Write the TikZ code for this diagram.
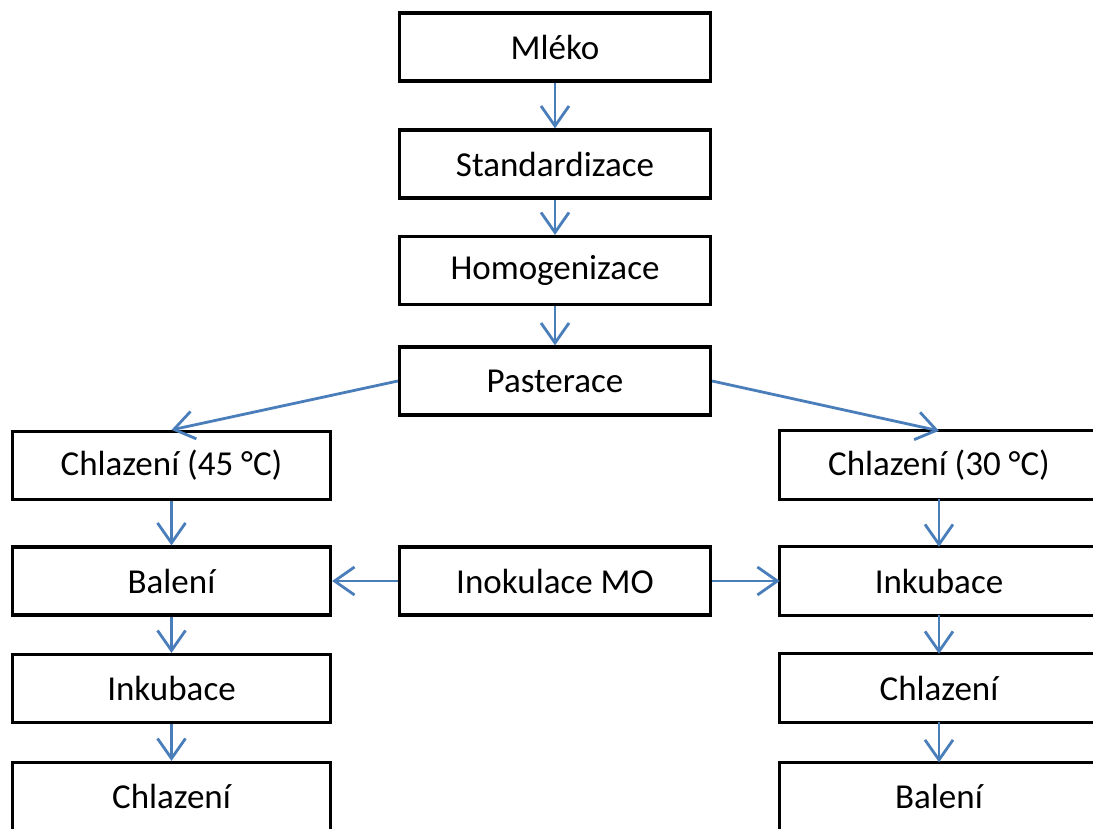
\documentclass[tikz,border=0pt]{standalone}
\usepackage{fontspec}
\setmainfont{Carlito}
\usetikzlibrary{arrows.meta}
\definecolor{flowblue}{RGB}{74,126,187}

\begin{document}
\begin{tikzpicture}[x=1pt, y=-1pt]

% GLOBAL SETTINGS
\tikzset{
  boxline/.style={line width=3.2pt, line join=miter},
  stepbox/.style={minimum height=68pt, inner sep=0pt,
    font=\fontsize{35}{42}\selectfont},
  midbox/.style={stepbox, draw, boxline, minimum width=311pt},
  sidebox/.style={stepbox, draw, boxline, minimum width=318pt},
  cutbox/.style={stepbox, minimum width=318pt}
}
\tikzset{flow/.style={draw=flowblue, line width=2.8pt,
    -{Straight Barb[length=20pt, width=28pt, line width=2.8pt]}}}

% FRAME
\fill[white] (0,0) rectangle (1093,829);
\useasboundingbox (0,0) rectangle (1093,829);
\clip (0,0) rectangle (1093,829);

% MIDDLE
\node[midbox] (mleko) at (555,47) {Mléko};
\node[midbox] (std) at (555,164) {Standardizace};
\node[midbox] (homo) at (555,270.5) {Homogenizace};
\node[midbox] (past) at (555,381) {Pasterace};
\node[midbox] (inok) at (555,581) {Inokulace MO};

% LEFT / RIGHT
\path foreach \n/\y/\t in {1/465.5/{Chlazení (45 °C)}, 2/581/Balení, 3/688.5/Inkubace, 4/796.5/Chlazení} {
(171.5,\y) node[sidebox] (L\n) {\t}
};
\path foreach \n/\y/\t in {1/465/{Chlazení (30 °C)}, 2/581/Inkubace, 3/688/Chlazení, 4/796.5/Balení} {
(939,\y) node[cutbox] (R\n) {\t}
};
% right boxes run off the page
\foreach \n in {1,...,4} {
\draw[boxline] (R\n.north east) -- (R\n.north west) -- (R\n.south west) -- (R\n.south east);
}

% EDGES
\draw[flow] (mleko) -- (std);
\draw[flow] (std) -- (homo);
\draw[flow] (homo) -- (past);
\draw[flow] (past.west) -- (L1.north);
\draw[flow] (past.east) -- (R1.north);
\draw[flow] (inok.west) -- (L2.east);
\draw[flow] (inok.east) -- (R2.west);
\foreach \i/\j in {1/2,2/3,3/4} {
\draw[flow] (L\i) -- (L\j);
\draw[flow] (R\i) -- (R\j);
}

\end{tikzpicture}
\end{document}
